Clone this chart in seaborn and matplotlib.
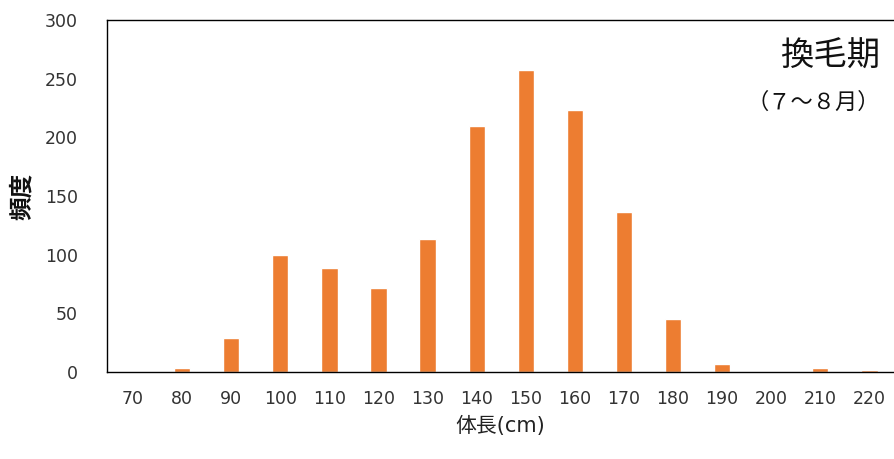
import matplotlib
matplotlib.use("Agg")
import matplotlib.pyplot as plt
import pandas as pd
import seaborn as sns

# body length classes (cm) and counts
lengths = [70, 80, 90, 100, 110, 120, 130, 140, 150, 160, 170, 180, 190, 200, 210, 220]
counts = [0, 3, 29, 100, 89, 72, 113, 210, 257, 223, 136, 45, 7, 0, 3, 2]
y_ticks = [0, 50, 100, 150, 200, 250, 300]

sns.set_theme(style="white")
plt.rcParams['font.family'] = ['DejaVu Sans', 'Noto Sans CJK JP']
jp = ['Noto Sans CJK JP', 'DejaVu Sans']

df = pd.DataFrame({'length': [str(v) for v in lengths], 'count': counts})

fig = plt.figure(figsize=(8.94, 4.59), dpi=100)
ax = fig.add_axes([107 / 894, 1 - 372 / 459, 1 - 107 / 894, (372 - 20) / 459])
sns.barplot(data=df, x='length', y='count', color='#ED7D31', saturation=1,
            width=0.33, ax=ax)

ax.set_xlim(-0.53, 15.5)
ax.set_ylim(0, 300)
ax.set_yticks(y_ticks)
ax.tick_params(axis='both', length=0, labelsize=12.5, colors='#333333')
ax.tick_params(axis='x', pad=13)
ax.tick_params(axis='y', pad=21)

for side in ['left', 'top', 'bottom']:
    ax.spines[side].set_color('black')
    ax.spines[side].set_linewidth(1.0)
ax.spines['right'].set_visible(False)

ax.set_xlabel('体長(cm)', fontsize=15, labelpad=6, color='#222222')
ax.set_ylabel('頻度', fontsize=17, labelpad=8, family=jp, color='#111111',
              fontweight='bold')

ax.text(0.982, 0.898, '換毛期', transform=ax.transAxes, ha='right', va='center',
        fontsize=24, family=jp, color='#111111')
ax.text(0.982, 0.767, '（７～８月）', transform=ax.transAxes, ha='right', va='center',
        fontsize=16, family=jp, color='#111111')

fig.savefig('out.png', dpi=100)
